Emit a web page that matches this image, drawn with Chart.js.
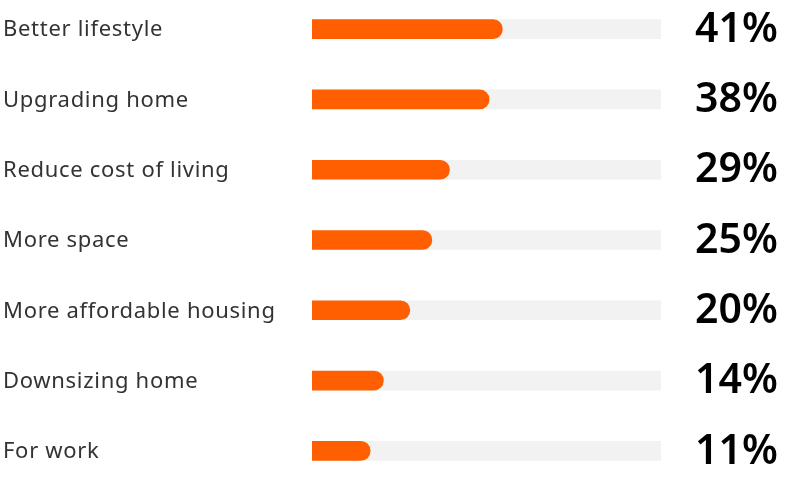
<!DOCTYPE html>
<html>
<head>
<meta charset="utf-8">
<script src="https://cdn.jsdelivr.net/npm/chart.js@4/dist/chart.umd.min.js"></script>
<style>
  html, body { margin: 0; padding: 0; background: #fff; overflow: hidden; }
  #wrap { position: absolute; left: 0; top: -6px; width: 794px; height: 492px; }
</style>
</head>
<body>
<div id="wrap"><canvas id="chart"></canvas></div>
<script>
const reasons = ["Better lifestyle", "Upgrading home", "Reduce cost of living", "More space",
                 "More affordable housing", "Downsizing home", "For work"];
const shares = [41, 38, 29, 25, 20, 14, 11];
const shareLabels = ["41%", "38%", "29%", "25%", "20%", "14%", "11%"];
const trackMax = 77;
const trackBase = -2.2;

// draws the reason names on the left and the percentages on the right of each row
const rowLabels = {
    id: "rowLabels",
    afterDatasetsDraw(chart) {
        const ctx = chart.ctx;
        const y = chart.scales.y;
        ctx.save();
        ctx.textBaseline = "middle";
        ctx.textAlign = "left";
        reasons.forEach((name, i) => {
            const cy = y.getPixelForValue(i);
            ctx.fillStyle = "#333333";
            ctx.font = "22px 'Noto Sans'";
            ctx.letterSpacing = "0.7px";
            ctx.fillText(name, 3, cy + 1);
            ctx.fillStyle = "#000000";
            ctx.font = "600 41px 'Noto Sans'";
            ctx.letterSpacing = "0px";
            ctx.fillText(shareLabels[i], 695, cy + 1);
        });
        ctx.restore();
    }
};

const config = {
    type: "bar",
    data: {
        labels: reasons,
        datasets: [
            {
                label: "Share",
                data: shares,
                base: trackBase,
                backgroundColor: "#FF5F00",
                borderRadius: { topRight: 10, bottomRight: 10, topLeft: 0, bottomLeft: 0 },
                borderSkipped: false,
                barThickness: 19,
                grouped: false,
                order: 1
            },
            {
                label: "Track",
                data: reasons.map(() => trackMax),
                base: trackBase,
                backgroundColor: "#F2F2F2",
                borderRadius: 0,
                barThickness: 19,
                grouped: false,
                order: 2
            }
        ]
    },
    options: {
        indexAxis: "y",
        responsive: true,
        maintainAspectRatio: false,
        animation: false,
        layout: { padding: { left: 312, right: 133, top: 0, bottom: 0 } },
        plugins: { legend: { display: false }, tooltip: { enabled: false } },
        scales: {
            x: { min: trackBase, max: trackMax, display: false },
            y: { display: false }
        }
    },
    plugins: [rowLabels]
};

new Chart(document.getElementById("chart"), config);
</script>
</body>
</html>
